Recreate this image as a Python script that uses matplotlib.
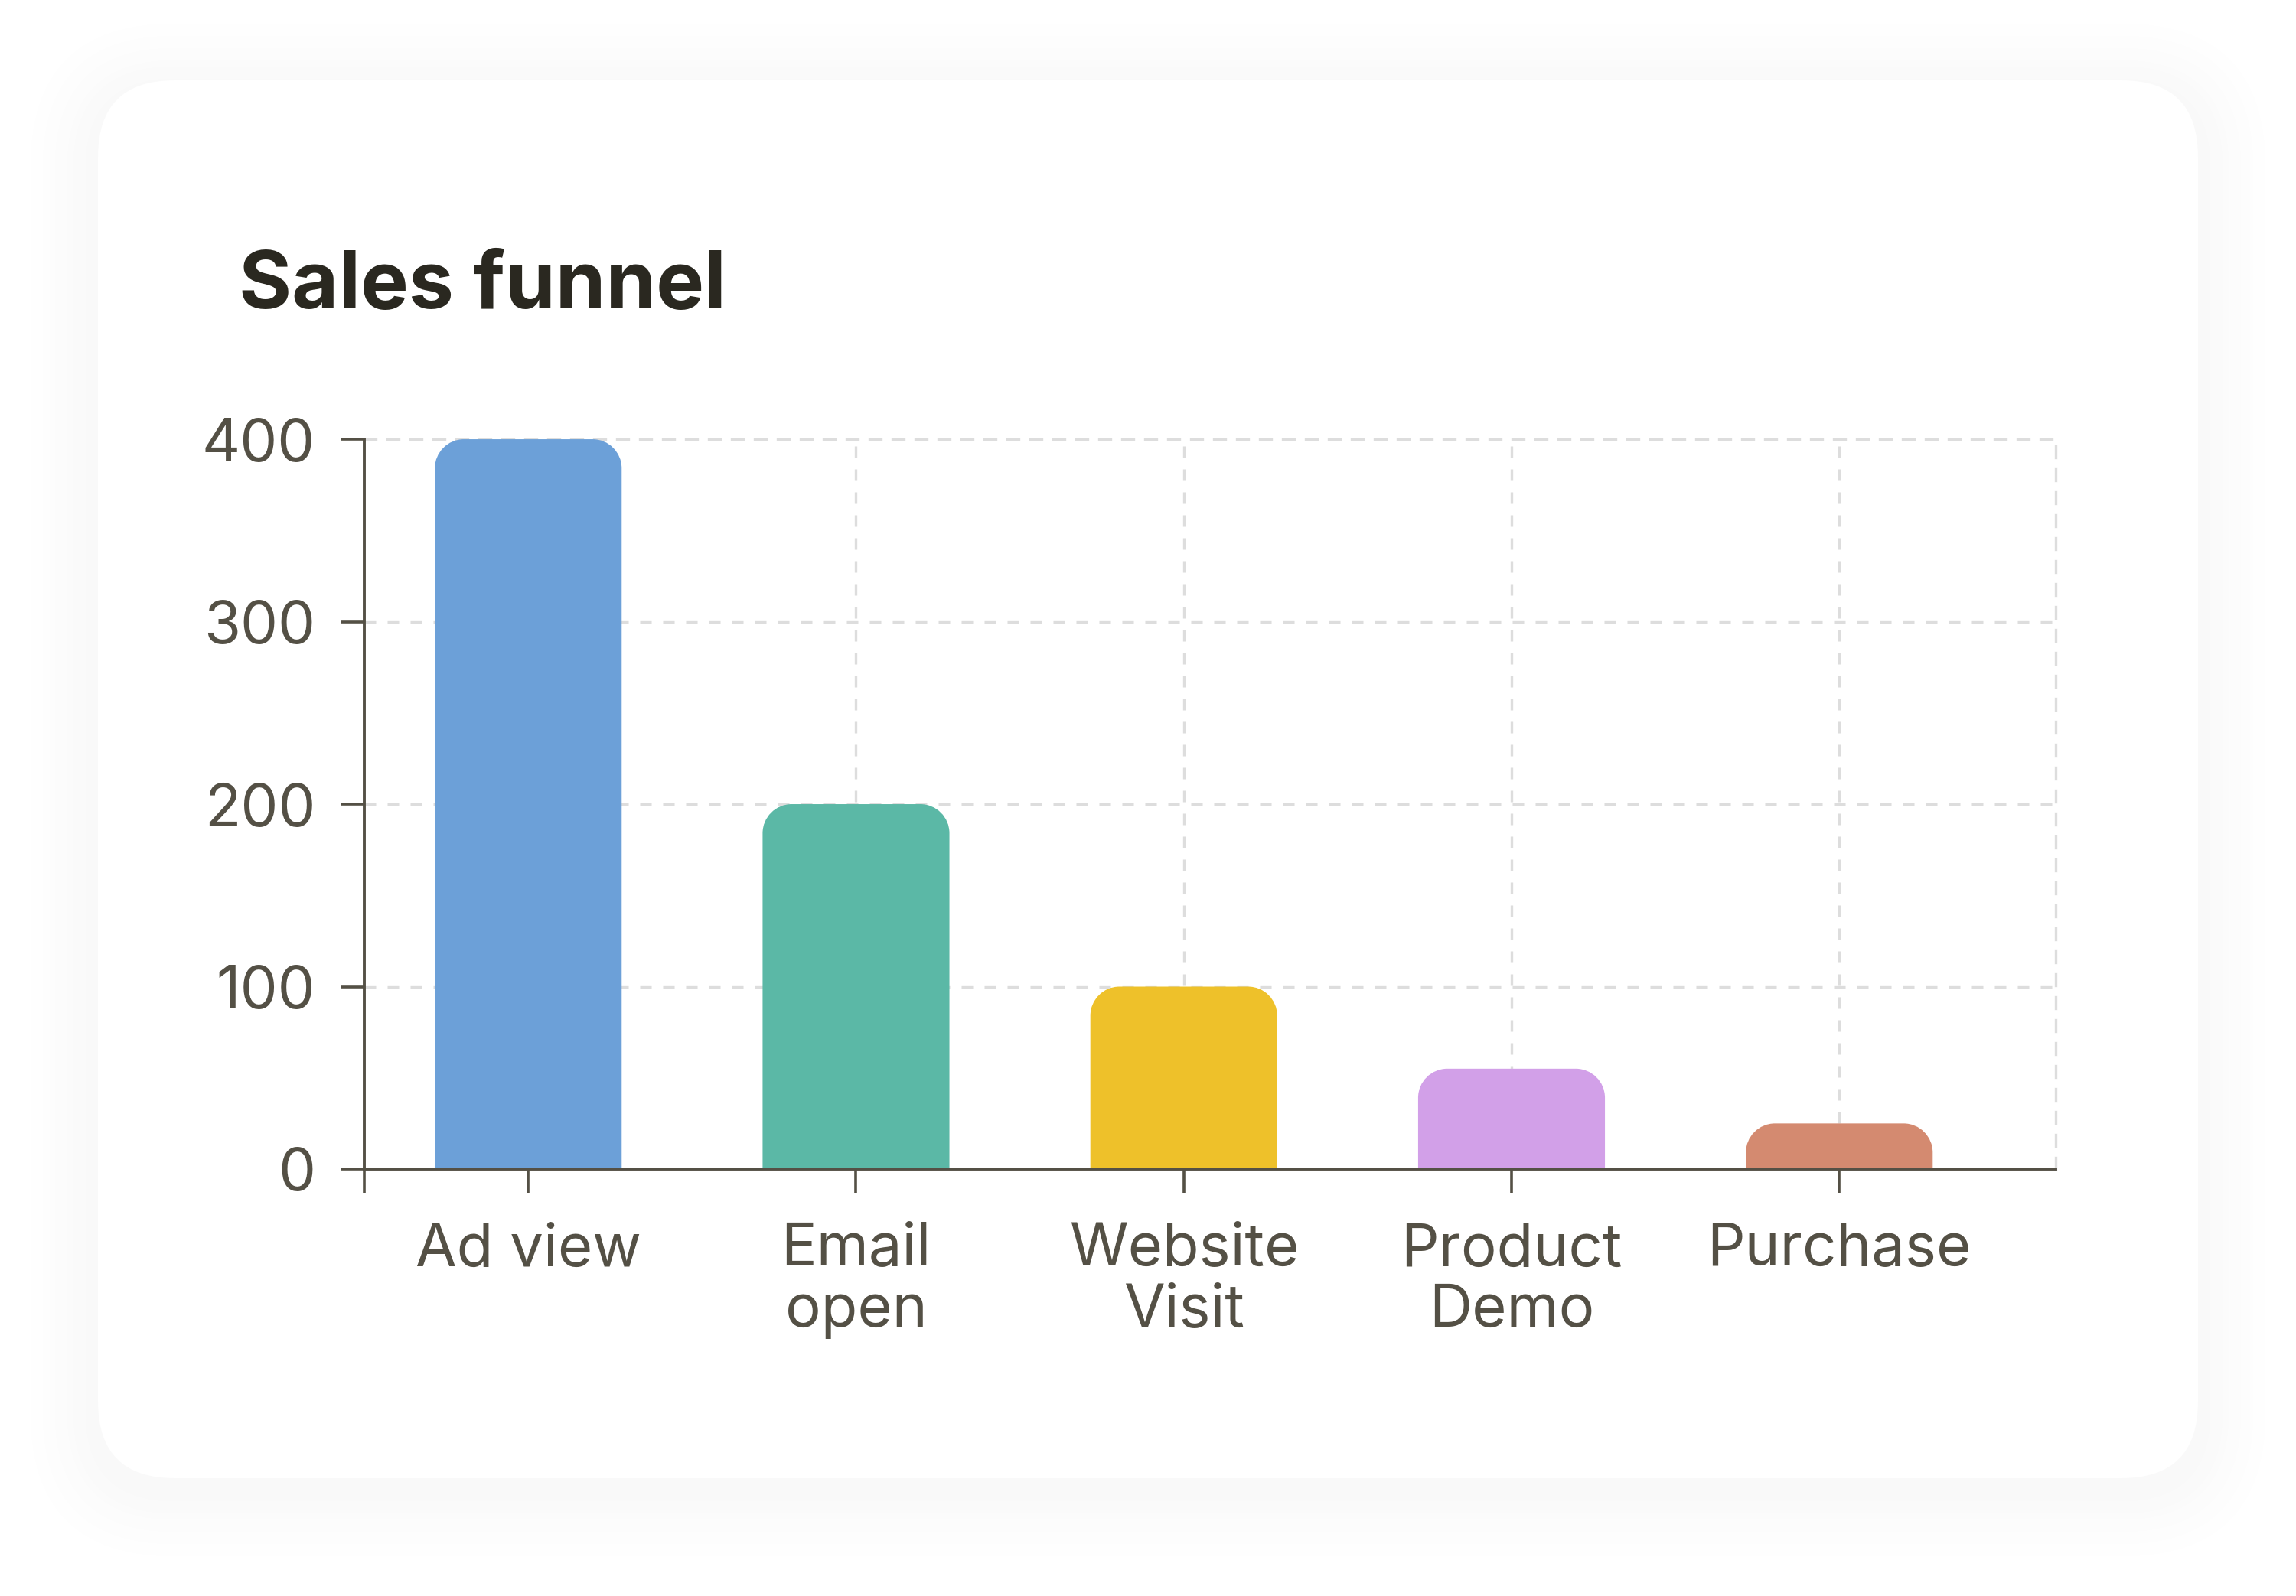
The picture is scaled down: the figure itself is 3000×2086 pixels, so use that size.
import matplotlib.pyplot as plt
import numpy as np
from matplotlib.patches import FancyBboxPatch, PathPatch
from matplotlib.path import Path

# -----------------------------
# data
# -----------------------------
stages = ["Ad view", "Email\nopen", "Website\nVisit", "Product\nDemo", "Purchase"]
counts = [400, 200, 100, 55, 25]
bar_colors = ["#6CA0D8", "#5BB8A6", "#EEC12A", "#D2A0E8", "#D48A70"]
y_ticks = [0, 100, 200, 300, 400]

TEXT = "#545045"
TITLE = "#2A2820"
GRID = "#DDDDDD"
FONT = ["Inter", "DejaVu Sans"]

plt.rcParams["font.family"] = FONT

fig = plt.figure(figsize=(15, 10.43), dpi=200)
W, H = 3000, 2086

# -----------------------------
# card background + soft shadow
# -----------------------------
bg = fig.add_axes([0, 0, 1, 1], zorder=-10)
bg.set_xlim(0, W)
bg.set_ylim(0, H)
bg.axis("off")

cx0, cx1, cy_top, cy_bot = 128, 2872, 105, 1932
card_w, card_h = cx1 - cx0, cy_bot - cy_top
# stepped grey rings, outermost (lightest) first
n_rings = 12
for i in range(n_rings, 0, -1):
    grow = 8 * i
    level = 248 + round(7 * i / n_rings)
    shade = "#{0:02x}{0:02x}{0:02x}".format(min(level, 255))
    shadow = FancyBboxPatch((cx0 - grow, H - cy_bot - grow - 14), card_w + 2 * grow, card_h + 2 * grow,
                            boxstyle=f"round,pad=0,rounding_size={100 + grow}",
                            facecolor=shade, edgecolor="none")
    bg.add_patch(shadow)
card = FancyBboxPatch((cx0, H - cy_bot), card_w, card_h, boxstyle="round,pad=0,rounding_size=100",
                      facecolor="white", edgecolor="none")
bg.add_patch(card)

# -----------------------------
# chart
# -----------------------------
ax = fig.add_axes([0.1587, 0.2675, 0.7366, 0.4573])
ax.set_facecolor("none")
x = np.arange(len(stages))
ax.set_xlim(-0.5, 4.66)
ax.set_ylim(0, 400)

bars = ax.bar(x, counts, width=0.57, color=bar_colors, zorder=3)

# rounded top corners (radius in pixels converted to data units)
p0 = ax.transData.transform((0, 0))
p1 = ax.transData.transform((1, 1))
r_px = 38
rx = r_px / (p1[0] - p0[0])
ry = r_px / (p1[1] - p0[1])
k = 0.5523
for b in bars:
    x0, w, h = b.get_x(), b.get_width(), b.get_height()
    x1 = x0 + w
    verts = [(x0, 0), (x0, h - ry),
             (x0, h - ry + ry * k), (x0 + rx - rx * k, h), (x0 + rx, h),
             (x1 - rx, h),
             (x1 - rx + rx * k, h), (x1, h - ry + ry * k), (x1, h - ry),
             (x1, 0), (x0, 0)]
    codes = [Path.MOVETO, Path.LINETO,
             Path.CURVE4, Path.CURVE4, Path.CURVE4,
             Path.LINETO,
             Path.CURVE4, Path.CURVE4, Path.CURVE4,
             Path.LINETO, Path.CLOSEPOLY]
    ax.add_patch(PathPatch(Path(verts, codes), facecolor=b.get_facecolor(),
                           edgecolor="none", zorder=3))
    b.set_visible(False)

ax.set_xticks(x)
ax.set_xticklabels(stages, linespacing=1.12)
ax.set_xticks([-0.5], minor=True)
ax.set_yticks(y_ticks)

ax.set_axisbelow(True)
ax.grid(True, color=GRID, linewidth=1.2, linestyle=(0, (4.5, 4.5)))

for side in ["top", "right"]:
    ax.spines[side].set_color(GRID)
    ax.spines[side].set_linewidth(1.2)
    ax.spines[side].set_linestyle((0, (4.5, 4.5)))
for side in ["left", "bottom"]:
    ax.spines[side].set_color(TEXT)
    ax.spines[side].set_linewidth(1.4)
    ax.spines[side].set_zorder(4)

ax.tick_params(axis="both", which="both", color=TEXT, labelcolor=TEXT, width=1.3, labelsize=28)
ax.tick_params(axis="y", length=11, pad=12)
ax.tick_params(axis="x", which="both", length=11, pad=14)

fig.text(0.104, 0.807, "Sales funnel", fontsize=38, fontweight="bold", color=TITLE)

fig.savefig("out.png", dpi=200, facecolor="white")
